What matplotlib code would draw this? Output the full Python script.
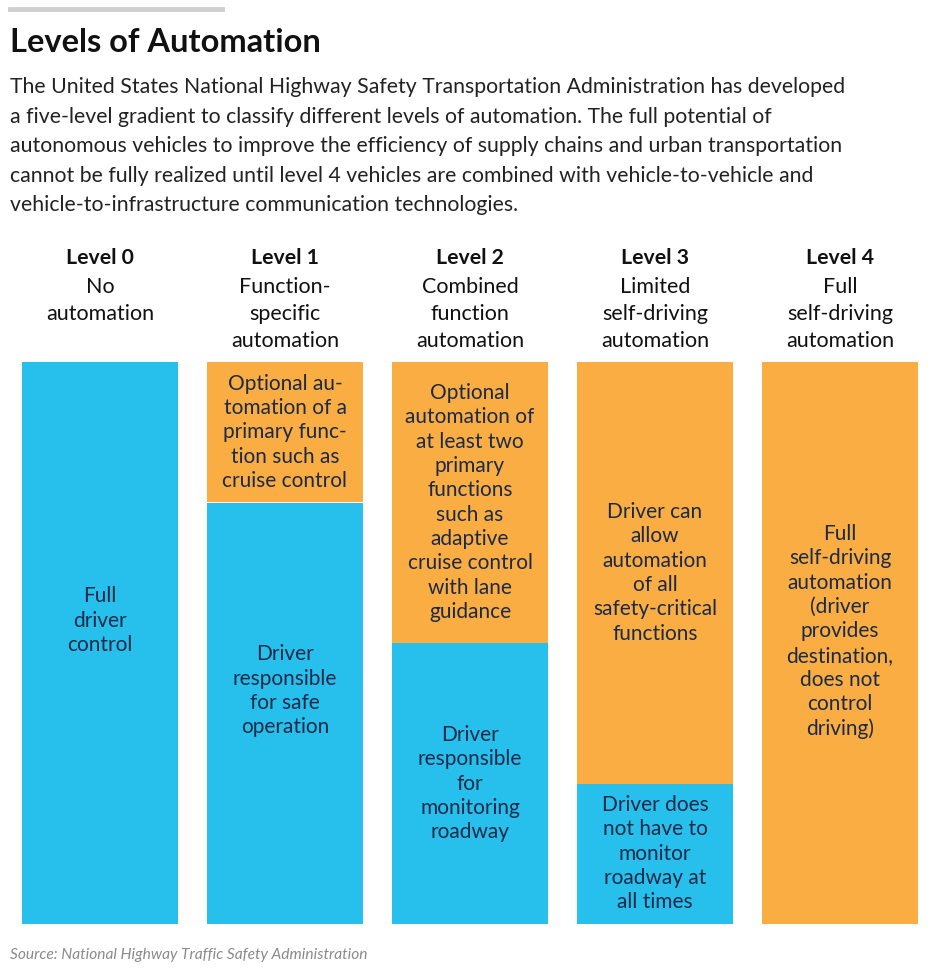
import matplotlib.pyplot as plt
import numpy as np

plt.rcParams['font.family'] = ['Lato', 'DejaVu Sans']

levels = ["Level 0", "Level 1", "Level 2", "Level 3", "Level 4"]
level_names = ["No\nautomation", "Function-\nspecific\nautomation",
               "Combined\nfunction\nautomation", "Limited\nself-driving\nautomation",
               "Full\nself-driving\nautomation"]
# share of the driving task (percent)
driver_share = [100, 75, 50, 25, 0]
automation_share = [0, 25, 50, 75, 100]
driver_text = ["Full\ndriver\ncontrol",
               "Driver\nresponsible\nfor safe\noperation",
               "Driver\nresponsible\nfor\nmonitoring\nroadway",
               "Driver does\nnot have to\nmonitor\nroadway at\nall times",
               ""]
automation_text = ["",
                   "Optional au-\ntomation of a\nprimary func-\ntion such as\ncruise control",
                   "Optional\nautomation of\nat least two\nprimary\nfunctions\nsuch as\nadaptive\ncruise control\nwith lane\nguidance",
                   "Driver can\nallow\nautomation\nof all\nsafety-critical\nfunctions",
                   "Full\nself-driving\nautomation\n(driver\nprovides\ndestination,\ndoes not\ncontrol\ndriving)"]

blue = "#27bfec"
orange = "#f9ad42"
navy = "#1c2a48"

W, H = 940, 974
fig = plt.figure(figsize=(W / 100, H / 100), dpi=100)


def fy(py):
    return 1 - py / H


def fx(px):
    return px / W


# top grey rule
fig.add_artist(plt.Line2D([fx(10), fx(222)], [fy(9), fy(9)], color="#cfcfcf", lw=3.5))

fig.text(fx(10), fy(43), "Levels of Automation", fontsize=23.5, fontweight="bold",
         color="#111111", va="center")
intro = ("The United States National Highway Safety Transportation Administration has developed\n"
         "a five-level gradient to classify different levels of automation. The full potential of\n"
         "autonomous vehicles to improve the efficiency of supply chains and urban transportation\n"
         "cannot be fully realized until level 4 vehicles are combined with vehicle-to-vehicle and\n"
         "vehicle-to-infrastructure communication technologies.")
fig.text(fx(10), fy(77), intro, fontsize=15.3, color="#222222", va="top", linespacing=1.6)

# bars
ax = fig.add_axes([fx(22), fy(924), fx(918) - fx(22), fy(362) - fy(924)])
x = np.arange(len(levels))
width = 156 / 185
ax.bar(x, driver_share, width=width, color=blue)
ax.bar(x, automation_share, bottom=driver_share, width=width, color=orange)
ax.set_xlim(-78 / 185, len(levels) - 1 + 78 / 185)
ax.set_ylim(0, 100)
ax.axis("off")

for i in range(len(levels)):
    if driver_share[i] > 0:
        ax.text(x[i], driver_share[i] / 2 + (4 if driver_share[i] > 60 else 0), driver_text[i],
                ha="center", va="center", fontsize=15, color=navy, linespacing=1.27)
    if automation_share[i] > 0:
        ax.text(x[i], driver_share[i] + automation_share[i] / 2 + (2 if automation_share[i] > 90 else 0),
                automation_text[i], ha="center", va="center", fontsize=15, color=navy,
                linespacing=1.27)
    cx = fx(100 + 185 * i)
    fig.text(cx, fy(258), levels[i], ha="center", va="center", fontsize=15.3,
             fontweight="bold", color="#111111")
    fig.text(cx, fy(277), level_names[i], ha="center", va="top", fontsize=15.5,
             color="#111111", linespacing=1.45)

fig.text(fx(10), fy(955), "Source: National Highway Traffic Safety Administration",
         fontsize=11.2, style="italic", color="#8a8a8a", va="center")

fig.savefig("out.png", dpi=100, facecolor="white")
